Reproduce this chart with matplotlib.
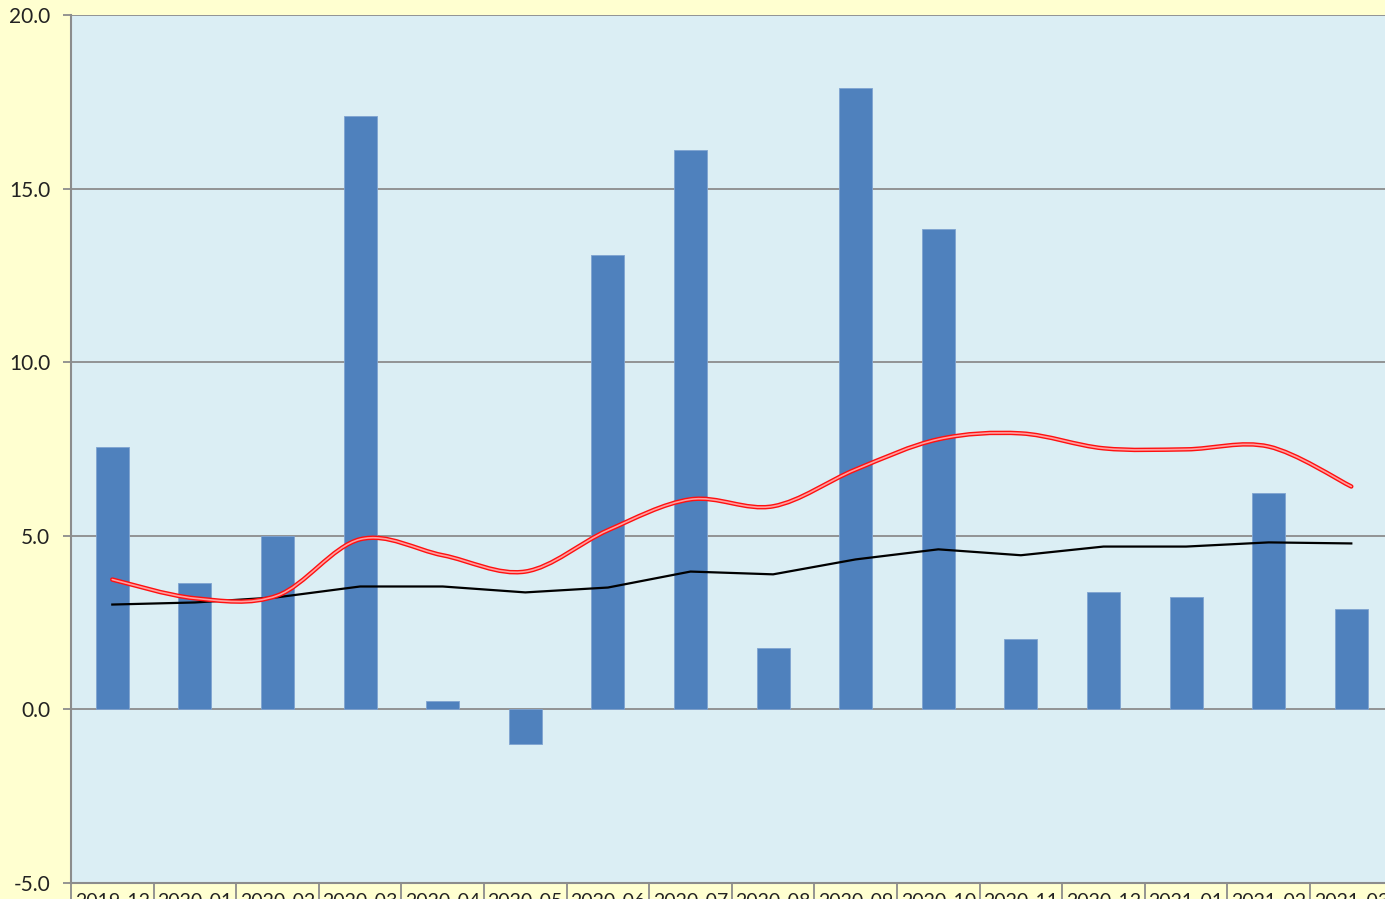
import numpy as np
import matplotlib.pyplot as plt
from matplotlib.path import Path
from matplotlib.patches import PathPatch

months = ['2019-12', '2020-01', '2020-02', '2020-03', '2020-04', '2020-05', '2020-06', '2020-07',
          '2020-08', '2020-09', '2020-10', '2020-11', '2020-12', '2021-01', '2021-02', '2021-03']
bars = [7.57, 3.63, 4.98, 17.08, 0.23, -1.0, 13.1, 16.1, 1.76, 17.89, 13.85, 2.02, 3.37, 3.25, 6.22, 2.88]
black_line = [3.02, 3.08, 3.23, 3.54, 3.54, 3.37, 3.51, 3.97, 3.89, 4.32, 4.61, 4.44, 4.69, 4.69, 4.81, 4.78]
red_line = [3.74, 3.2, 3.28, 4.9, 4.44, 3.97, 5.16, 6.05, 5.85, 6.91, 7.78, 7.95, 7.52, 7.49, 7.57, 6.42]

plt.rcParams['font.family'] = ['Lato', 'DejaVu Sans']

fig = plt.figure(figsize=(13.85, 8.99), dpi=100, facecolor='#FFFFD0')
ax = fig.add_axes([71/1385, 16/899, 1321.6/1385, 868/899])
ax.set_facecolor('#DBEEF4')

x = np.arange(len(months))
ax.bar(x, bars, width=0.4, color='#4F81BD', edgecolor='#7FA3D0', linewidth=0.6, zorder=3)
ax.plot(x, black_line, color='black', lw=1.6, zorder=4)


def smooth_path(xs, ys):
    # excel-style smoothed line: bezier segments with catmull-rom control points
    pts = np.column_stack([xs, ys]).astype(float)
    verts = [pts[0]]
    codes = [Path.MOVETO]
    n = len(pts)
    for i in range(n - 1):
        p0 = pts[i - 1] if i > 0 else pts[i]
        p1, p2 = pts[i], pts[i + 1]
        p3 = pts[i + 2] if i + 2 < n else pts[i + 1]
        verts += [p1 + (p2 - p0) / 6, p2 - (p3 - p1) / 6, p2]
        codes += [Path.CURVE4] * 3
    return Path(verts, codes)


sp = smooth_path(x, red_line)
ax.add_patch(PathPatch(sp, facecolor='none', edgecolor='#FF1010', lw=3.2, zorder=5, capstyle='round'))
ax.add_patch(PathPatch(sp, facecolor='none', edgecolor='#FFA0A0', lw=1.2, zorder=6, capstyle='round'))

ax.set_xlim(-0.5, 15.5)
ax.set_ylim(-5, 20)
ax.set_yticks(np.arange(-5, 21, 5))
ax.set_yticklabels([f'{v:.1f}' for v in np.arange(-5, 21, 5)], fontsize=15, color='#222222')
ax.yaxis.grid(True, color='#8C8C8C', lw=1.3, zorder=1)
ax.set_axisbelow(True)

ax.set_xticks(x)
ax.set_xticklabels(months, fontsize=14, color='#222222')
ax.set_xticks(np.arange(-0.5, 16, 1), minor=True)
ax.tick_params(axis='x', which='major', length=0, pad=7)
ax.tick_params(axis='x', which='minor', length=14, width=1.3, color='#8C8C8C', direction='out')
ax.tick_params(axis='y', length=6, width=1.3, color='#8C8C8C', pad=9)

for s in ['right', 'top']:
    ax.spines[s].set_visible(False)
for s in ['left', 'bottom']:
    ax.spines[s].set_color('#8C8C8C')
    ax.spines[s].set_linewidth(1.5)

fig.savefig('out.png', dpi=100, facecolor=fig.get_facecolor())
